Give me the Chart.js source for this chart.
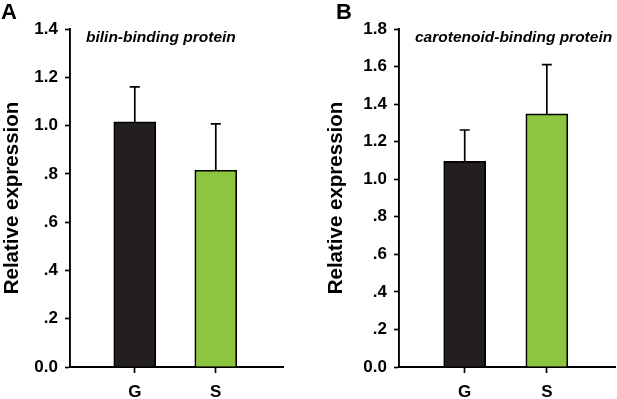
<!DOCTYPE html>
<html>
<head>
<meta charset="utf-8">
<script src="https://cdn.jsdelivr.net/npm/chart.js@4.4.1/dist/chart.umd.min.js"></script>
<style>
  html, body { margin: 0; padding: 0; background: #fff; }
  #wrap { position: relative; width: 617px; height: 399px; overflow: hidden; }
  .panel { position: absolute; top: 0; height: 399px; }
  #panelA { left: 0; width: 300px; }
  #panelB { left: 320px; width: 297px; }
</style>
</head>
<body>
<div id="wrap">
  <div class="panel" id="panelA"><canvas id="chartA"></canvas></div>
  <div class="panel" id="panelB"><canvas id="chartB"></canvas></div>
</div>
<script>
// data
const categories = ['G', 'S'];
const barColors = ['#231f20', '#8cc540'];

const bilinMeans = [1.015, 0.815];
const bilinErrors = [0.145, 0.192];

const caroMeans = [1.095, 1.348];
const caroErrors = [0.167, 0.262];

const FONT = '"Liberation Sans", Arial, Helvetica, sans-serif';

// 0.0, .2, .4 ... 1.0, 1.2
function tickLabel(v) {
  const r = Math.round(v * 10) / 10;
  const s = r.toFixed(1);
  if (r > 0 && r < 1) return s.substring(1);
  return s;
}

// upper error bars
const errorBars = {
  id: 'errorBars',
  afterDatasetsDraw(chart, args, opts) {
    const ctx = chart.ctx;
    const meta = chart.getDatasetMeta(0);
    const y = chart.scales.y;
    ctx.save();
    ctx.strokeStyle = '#000';
    ctx.lineWidth = 1.7;
    meta.data.forEach((bar, i) => {
      const top = y.getPixelForValue(opts.means[i]);
      const end = y.getPixelForValue(opts.means[i] + opts.errors[i]);
      ctx.beginPath();
      ctx.moveTo(bar.x, top);
      ctx.lineTo(bar.x, end);
      ctx.moveTo(bar.x - 5, end);
      ctx.lineTo(bar.x + 5, end);
      ctx.stroke();
    });
    ctx.restore();
  }
};

// panel letter and gene name
const panelText = {
  id: 'panelText',
  afterDraw(chart, args, opts) {
    const ctx = chart.ctx;
    const area = chart.chartArea;
    ctx.save();
    ctx.fillStyle = '#000';
    ctx.textBaseline = 'middle';
    ctx.font = 'bold 22px ' + FONT;
    ctx.fillText(opts.letter, opts.letterX, 13);
    ctx.font = 'italic bold 15.5px ' + FONT;
    ctx.fillText(opts.name, area.left + 16, 38);
    ctx.restore();
  }
};

function makeChart(id, means, errors, maxY, axisWidth, titlePad, letter, letterX, name, padRight) {
  return new Chart(document.getElementById(id), {
    type: 'bar',
    data: {
      datasets: [{
        data: means.map((m, i) => ({ x: i, y: m })),
        backgroundColor: barColors,
        borderColor: '#000',
        borderWidth: 1.7,
        barThickness: 42
      }]
    },
    options: {
      responsive: true,
      maintainAspectRatio: false,
      animation: false,
      events: [],
      layout: { padding: { top: 29, left: 0, right: padRight, bottom: 0 } },
      plugins: {
        legend: { display: false },
        tooltip: { enabled: false },
        errorBars: { means: means, errors: errors },
        panelText: { letter: letter, letterX: letterX, name: name }
      },
      scales: {
        x: {
          type: 'linear',
          min: -0.8,
          max: 1.83,
          offset: false,
          afterBuildTicks(axis) {
            axis.ticks = categories.map((c, i) => ({ value: i }));
          },
          afterFit(axis) { axis.height = 32; },
          grid: { offset: false, drawOnChartArea: false, drawTicks: true, tickLength: 6, tickColor: '#000', tickWidth: 1.7 },
          border: { display: true, color: '#000', width: 1.9 },
          ticks: {
            color: '#000',
            padding: 9,
            maxRotation: 0,
            font: { family: FONT, size: 17, weight: 'bold' },
            callback: v => categories[v]
          }
        },
        y: {
          min: 0,
          max: maxY,
          afterFit(axis) { axis.width = axisWidth; },
          grid: { drawOnChartArea: false, drawTicks: true, tickLength: 5, tickColor: '#000', tickWidth: 1.7 },
          border: { display: true, color: '#000', width: 1.9 },
          ticks: {
            stepSize: 0.2,
            color: '#000',
            padding: 7,
            font: { family: FONT, size: 17, weight: 'bold' },
            callback: v => tickLabel(v)
          },
          title: {
            display: true,
            text: 'Relative expression',
            color: '#000',
            padding: { top: titlePad, bottom: 0 },
            font: { family: FONT, size: 20.5, weight: 'bold', lineHeight: 1 }
          }
        }
      }
    },
    plugins: [errorBars, panelText]
  });
}

makeChart('chartA', bilinMeans, bilinErrors, 1.4, 70, 2, 'A', 1, 'bilin-binding protein', 17);
makeChart('chartB', caroMeans, caroErrors, 1.8, 79, 6, 'B', 16, 'carotenoid-binding protein', 2);
</script>
</body>
</html>
